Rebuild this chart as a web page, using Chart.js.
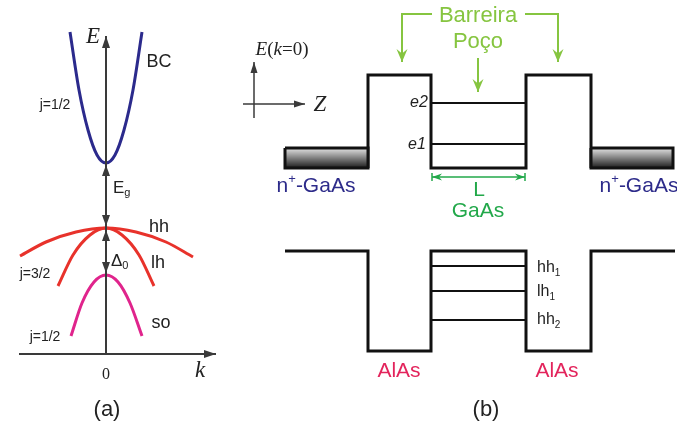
<!DOCTYPE html>
<html>
<head>
<meta charset="utf-8">
<script src="https://cdn.jsdelivr.net/npm/chart.js@4.4.1/dist/chart.umd.min.js"></script>
<style>
html, body { margin: 0; padding: 0; background: #fff; }
#wrap { position: relative; width: 677px; height: 426px; overflow: hidden; }
#chartA { position: absolute; left: 0; top: 0; }
#chartB { position: absolute; left: 230px; top: 0; }
</style>
</head>
<body>
<div id="wrap">
  <canvas id="chartA" width="230" height="426"></canvas>
  <canvas id="chartB" width="447" height="426"></canvas>
</div>
<script>
// ---- panel (a): bands E(k) near k = 0 (arbitrary units) ----
const bcK = [-0.36, -0.27, -0.18, -0.09, 0, 0.09, 0.18, 0.27, 0.36];
const bcE = [1.96, 1.38, 0.98, 0.73, 0.65, 0.73, 0.98, 1.38, 1.96];
const hhK = [-0.86, -0.6, -0.3, 0, 0.3, 0.6, 0.87];
const hhE = [-0.28, -0.14, -0.04, 0, -0.04, -0.14, -0.29];
const lhK = [-0.48, -0.33, -0.16, 0, 0.16, 0.33, 0.48];
const lhE = [-0.58, -0.27, -0.07, 0, -0.07, -0.27, -0.58];
const soK = [-0.35, -0.24, -0.12, 0, 0.12, 0.24, 0.36];
const soE = [-1.08, -0.75, -0.54, -0.47, -0.54, -0.75, -1.08];
const eAxisE = [-1.26, 1.92];
const kAxisK = [-0.87, 1.10];
const gapE = [0.02, 0.63];      // Eg arrow
const deltaE = [-0.45, -0.02];  // spin-orbit split arrow

// ---- panel (b): band profile along z (arbitrary units) ----
const cbZ = [0, 0, 6.3, 6.3, 15.8, 15.8, 22.3, 22.3];
const cbE = [0.83, 1.76, 1.76, 0.83, 0.83, 1.76, 1.76, 0.83];
const leftContactZ = [-8.3, 0, 0, -8.3, -8.3];
const rightContactZ = [22.3, 30.5, 30.5, 22.3, 22.3];
const contactE = [1.03, 1.03, 0.83, 0.83, 1.03];
const vbZ = [-8.3, 0, 0, 6.3, 6.3, 15.8, 15.8, 22.3, 22.3, 30.7];
const vbE = [0, 0, -1.0, -1.0, 0, 0, -1.0, -1.0, 0, 0];
const wellZ = [6.3, 15.8];
const electronLevels = [1.48, 1.07];          // e2, e1
const holeLevels = [-0.15, -0.40, -0.69];     // hh1, lh1, hh2

const pts = (xs, ys) => xs.map((x, i) => ({ x: x, y: ys[i] }));

function lineSet(xs, ys, color, width, extra) {
  return Object.assign({
    data: pts(xs, ys),
    showLine: true,
    borderColor: color,
    borderWidth: width,
    pointRadius: 0,
    pointHoverRadius: 0,
    fill: false,
    tension: 0,
    clip: false
  }, extra || {});
}

function drawHead(ctx, a, b, color, len, wid, notch) {
  const ang = Math.atan2(b.y - a.y, b.x - a.x);
  ctx.save();
  ctx.translate(b.x, b.y);
  ctx.rotate(ang);
  ctx.beginPath();
  ctx.moveTo(0, 0);
  ctx.lineTo(-len, -wid / 2);
  ctx.lineTo(-len * notch, 0);
  ctx.lineTo(-len, wid / 2);
  ctx.closePath();
  ctx.fillStyle = color;
  ctx.fill();
  ctx.restore();
}

// arrow heads and end bars on datasets that ask for them
const arrowPlugin = {
  id: 'arrows',
  afterDatasetsDraw(chart) {
    const ctx = chart.ctx;
    chart.data.datasets.forEach((ds, i) => {
      if (!ds.heads) return;
      const p = chart.getDatasetMeta(i).data;
      const n = p.length;
      const len = ds.headLen || 10, wid = ds.headWid || 8, notch = ds.notch || 1;
      if (ds.heads === 'end' || ds.heads === 'both') drawHead(ctx, p[n - 2], p[n - 1], ds.borderColor, len, wid, notch);
      if (ds.heads === 'both') drawHead(ctx, p[1], p[0], ds.borderColor, len, wid, notch);
      if (ds.bars) {
        ctx.save();
        ctx.strokeStyle = ds.borderColor;
        ctx.lineWidth = 1.5;
        [p[0], p[n - 1]].forEach(q => {
          ctx.beginPath();
          ctx.moveTo(q.x, q.y - 4);
          ctx.lineTo(q.x, q.y + 4);
          ctx.stroke();
        });
        ctx.restore();
      }
    });
  }
};

// text with _sub, ^sup and *italic* markup
function richText(ctx, str, x, y, style) {
  const size = style.size;
  const segs = [];
  let italic = false;
  for (let i = 0; i < str.length; i++) {
    const c = str[i];
    if (c === '*') { italic = !italic; continue; }
    if (c === '_' || c === '^') {
      segs.push({ t: str[i + 1], k: c === '_' ? 'sub' : 'sup', it: italic });
      i++;
      continue;
    }
    segs.push({ t: c, k: '', it: italic || style.italic });
  }
  const fontOf = s => {
    const sz = s.k ? Math.round(size * 0.62) : size;
    return (s.it ? 'italic ' : '') + (style.bold ? 'bold ' : '') + sz + 'px ' + style.family;
  };
  let w = 0;
  segs.forEach(s => { ctx.font = fontOf(s); s.w = ctx.measureText(s.t).width; w += s.w; });
  let cx = style.align === 'left' ? x : x - w / 2;
  ctx.save();
  ctx.fillStyle = style.color;
  ctx.textBaseline = 'middle';
  ctx.textAlign = 'left';
  segs.forEach(s => {
    ctx.font = fontOf(s);
    const dy = s.k === 'sub' ? size * 0.32 : (s.k === 'sup' ? -size * 0.32 : 0);
    ctx.fillText(s.t, cx, y + dy);
    cx += s.w;
  });
  ctx.restore();
}

const labelPlugin = {
  id: 'labels',
  afterDraw(chart, args, opts) {
    const xs = chart.scales.x, ys = chart.scales.y;
    (opts.items || []).forEach(it => {
      richText(chart.ctx, it[0], xs.getPixelForValue(it[1]), ys.getPixelForValue(it[2]), opts.styles[it[3]]);
    });
  }
};

const SANS = '"Liberation Sans", Arial, sans-serif';
const SERIF = '"Liberation Serif", "DejaVu Serif", serif';

const stylesA = {
  name: { size: 18, family: SANS, color: '#222' },
  j: { size: 14, family: SANS, color: '#222' },
  left: { size: 17, family: SANS, color: '#222', align: 'left' },
  axis: { size: 23, family: SERIF, color: '#222', italic: true },
  zero: { size: 16, family: SERIF, color: '#222' },
  cap: { size: 22, family: SANS, color: '#222' }
};
const labelsA = [
  ['E', -0.13, 1.91, 'axis'],
  ['BC', 0.53, 1.66, 'name'],
  ['j=1/2', -0.51, 1.23, 'j'],
  ['E_g', 0.07, 0.40, 'left'],
  ['hh', 0.53, 0.01, 'name'],
  ['lh', 0.52, -0.35, 'name'],
  ['\u0394_0', 0.05, -0.33, 'left'],
  ['j=3/2', -0.71, -0.46, 'j'],
  ['so', 0.55, -0.95, 'name'],
  ['j=1/2', -0.61, -1.09, 'j'],
  ['0', 0, -1.47, 'zero'],
  ['k', 0.94, -1.43, 'axis'],
  ['(a)', 0.01, -1.82, 'cap']
];

const stylesB = {
  green: { size: 22, family: SANS, color: '#86c540' },
  dgreen: { size: 21, family: SANS, color: '#22a84a' },
  blue: { size: 21, family: SANS, color: '#2d2b8a' },
  pink: { size: 21, family: SANS, color: '#e3245c' },
  lev: { size: 16, family: SANS, color: '#222', italic: true },
  hole: { size: 16, family: SANS, color: '#222', align: 'left' },
  serif: { size: 19, family: SERIF, color: '#222' },
  axis: { size: 23, family: SERIF, color: '#222', italic: true },
  cap: { size: 22, family: SANS, color: '#222' }
};
const labelsB = [
  ['Barreira', 11, 2.35, 'green'],
  ['Po\u00e7o', 11, 2.09, 'green'],
  ['*E*(*k*=0)', -8.6, 2.01, 'serif'],
  ['Z', -4.8, 1.46, 'axis'],
  ['e2', 5.1, 1.48, 'lev'],
  ['e1', 4.9, 1.06, 'lev'],
  ['n^+-GaAs', -5.2, 0.65, 'blue'],
  ['n^+-GaAs', 27.1, 0.65, 'blue'],
  ['L', 11.1, 0.61, 'dgreen'],
  ['GaAs', 11, 0.40, 'dgreen'],
  ['hh_1', 16.9, -0.17, 'hole'],
  ['lh_1', 16.9, -0.41, 'hole'],
  ['hh_2', 16.9, -0.69, 'hole'],
  ['AlAs', 3.1, -1.20, 'pink'],
  ['AlAs', 18.9, -1.20, 'pink'],
  ['(b)', 11.8, -1.59, 'cap']
];

function baseOptions(xmin, xmax, ymin, ymax, items, styles) {
  return {
    responsive: false,
    animation: false,
    events: [],
    layout: { padding: 0 },
    plugins: {
      legend: { display: false },
      tooltip: { enabled: false },
      labels: { items: items, styles: styles }
    },
    scales: {
      x: { type: 'linear', display: false, min: xmin, max: xmax },
      y: { type: 'linear', display: false, min: ymin, max: ymax }
    }
  };
}

const AX = '#3a3a3a';
const curve = { cubicInterpolationMode: 'monotone' };

new Chart(document.getElementById('chartA'), {
  type: 'scatter',
  data: {
    datasets: [
      lineSet([0, 0], eAxisE, AX, 2, { heads: 'end', headLen: 12, headWid: 8 }),
      lineSet(kAxisK, [eAxisE[0], eAxisE[0]], AX, 2, { heads: 'end', headLen: 12, headWid: 8 }),
      lineSet([0, 0], gapE, AX, 2, { heads: 'both', headLen: 11, headWid: 8 }),
      lineSet([0, 0], deltaE, AX, 2, { heads: 'both', headLen: 11, headWid: 8 }),
      lineSet(bcK, bcE, '#2b2a8c', 3, curve),
      lineSet(hhK, hhE, '#e8322b', 3, curve),
      lineSet(lhK, lhE, '#e8322b', 3, curve),
      lineSet(soK, soE, '#e0248c', 3, curve)
    ]
  },
  options: baseOptions(-1.06, 1.24, -1.98, 2.28, labelsA, stylesA),
  plugins: [arrowPlugin, labelPlugin]
});

function contactFill(context) {
  const chart = context.chart;
  if (!chart.chartArea) return '#555';
  const y = chart.scales.y;
  const g = chart.ctx.createLinearGradient(0, y.getPixelForValue(contactE[0]), 0, y.getPixelForValue(contactE[2]));
  g.addColorStop(0, '#e4e4e4');
  g.addColorStop(0.45, '#8a8a8a');
  g.addColorStop(1, '#1c1c1c');
  return g;
}

const GREEN = '#86c540';
const DGREEN = '#22a84a';
const greenArrow = { heads: 'end', headLen: 13, headWid: 11, notch: 0.65 };

const levelSets = electronLevels.concat(holeLevels).map(e => lineSet(wellZ, [e, e], '#111', 2));

new Chart(document.getElementById('chartB'), {
  type: 'scatter',
  data: {
    datasets: [
      lineSet(leftContactZ, contactE, '#111', 3, { fill: 'shape', backgroundColor: contactFill }),
      lineSet(rightContactZ, contactE, '#111', 3, { fill: 'shape', backgroundColor: contactFill }),
      lineSet(cbZ, cbE, '#111', 3),
      lineSet(vbZ, vbE, '#111', 3),
      ...levelSets,
      lineSet([6.4, 3.4, 3.4], [2.37, 2.37, 1.89], GREEN, 2, greenArrow),
      lineSet([15.7, 19.0, 19.0], [2.37, 2.37, 1.89], GREEN, 2, greenArrow),
      lineSet([11, 11], [1.93, 1.59], GREEN, 2, greenArrow),
      lineSet([6.4, 15.7], [0.74, 0.74], DGREEN, 1.5, { heads: 'both', headLen: 10, headWid: 7, notch: 0.7, bars: true }),
      lineSet([-11.4, -11.4], [1.33, 1.89], AX, 1.5, { heads: 'end', headLen: 11, headWid: 7 }),
      lineSet([-12.5, -6.3], [1.47, 1.47], AX, 1.5, { heads: 'end', headLen: 11, headWid: 7 })
    ]
  },
  options: baseOptions(-13.8, 30.9, -1.75, 2.51, labelsB, stylesB),
  plugins: [arrowPlugin, labelPlugin]
});
</script>
</body>
</html>
